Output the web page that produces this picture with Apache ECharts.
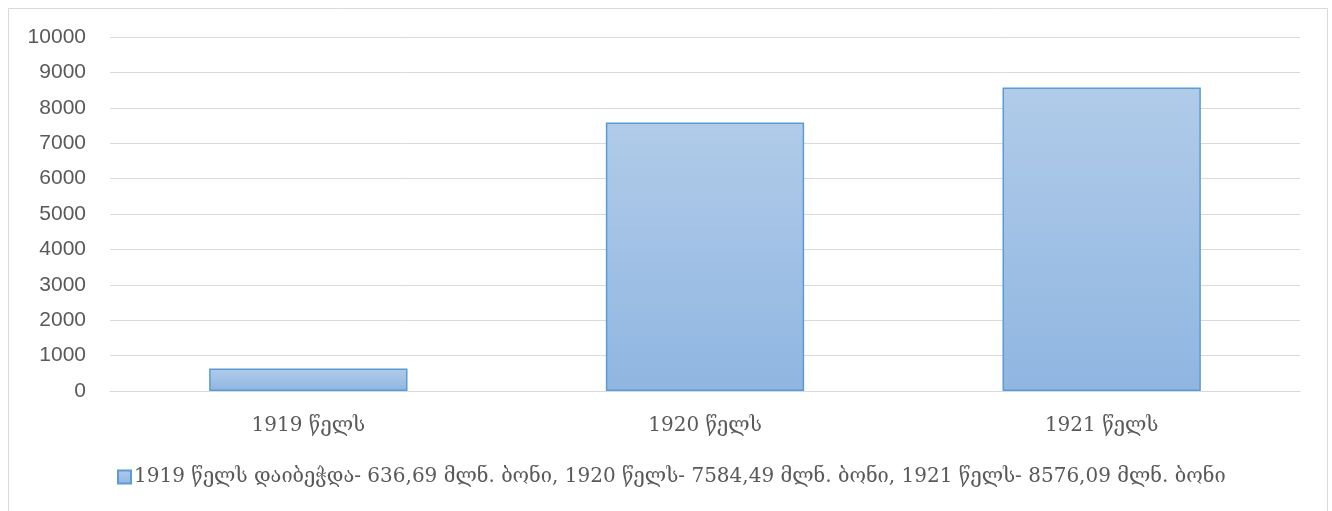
<!DOCTYPE html>
<html>
<head>
<meta charset="utf-8">
<script src="https://cdn.jsdelivr.net/npm/echarts@6/dist/echarts.min.js"></script>
<style>html,body{margin:0;padding:0;background:#fff}#c{width:1332px;height:511px}</style>
</head>
<body>
<div id="c"></div>
<script>
const categories = ['1919 წელს', '1920 წელს', '1921 წელს'];
const values = [636.69, 7584.49, 8576.09];
const seriesName = '1919 წელს დაიბეჭდა- 636,69 მლნ. ბონი, 1920 წელს- 7584,49 მლნ. ბონი, 1921 წელს- 8576,09 მლნ. ბონი';
const yTicks = { min: 0, max: 10000, interval: 1000 };

const chart = echarts.init(document.getElementById('c'));
const grad = new echarts.graphic.LinearGradient(0, 0, 0, 1, [
  { offset: 0, color: '#b1cbe9' },
  { offset: 1, color: '#8fb6e1' }
]);
chart.setOption({
  animation: false,
  graphic: [{
    type: 'rect', shape: { x: 8.5, y: 8.5, width: 1319, height: 520 },
    style: { fill: 'none', stroke: '#d9d9d9', lineWidth: 1 }, silent: true
  }],
  grid: { left: 110, right: 32, top: 37, bottom: 120 },
  legend: {
    data: [seriesName], left: 112, top: 462, itemWidth: 13, itemHeight: 13, itemGap: 4,
    icon: 'rect',
    textStyle: { fontFamily: 'DejaVu Serif', fontSize: 20, color: '#595959', padding: [0, 0, 0, -2] }
  },
  xAxis: {
    type: 'category', data: categories,
    axisLine: { show: true, lineStyle: { color: '#d9d9d9', width: 1 } },
    axisTick: { show: false },
    axisLabel: { fontFamily: 'DejaVu Serif', fontSize: 20, color: '#595959', margin: 25 }
  },
  yAxis: {
    type: 'value', min: yTicks.min, max: yTicks.max, interval: yTicks.interval,
    axisLine: { show: false }, axisTick: { show: false },
    splitLine: { lineStyle: { color: '#d9d9d9', width: 1 } },
    axisLabel: { fontFamily: 'Liberation Sans', fontSize: 21, color: '#595959', margin: 24,
      formatter: v => String(v) }
  },
  series: [{
    name: seriesName, type: 'bar', data: values, barWidth: '50%',
    itemStyle: { color: grad, borderColor: '#5b9bd5', borderWidth: 1.5 }
  }]
});
</script>
</body>
</html>
